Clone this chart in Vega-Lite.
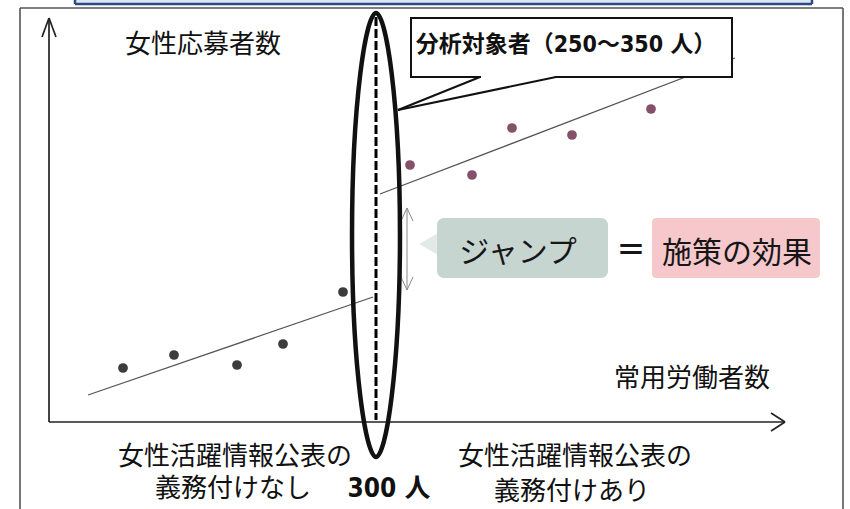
{
  "$schema": "https://vega.github.io/schema/vega-lite/v6.json",
  "width": 850,
  "height": 509,
  "autosize": "none",
  "padding": 0,
  "background": "white",
  "config": {"view": {"stroke": null}},
  "datasets": {
    "topbar": [{"x": 75, "x2": 812, "y": 0, "y2": 4}],
    "navy": [{"x": 75, "y": 4, "x2": 812, "y2": 4}, {"x": 75, "y": 0, "x2": 75, "y2": 4}, {"x": 812, "y": 0, "x2": 812, "y2": 4}],
    "frame": [{"x": 20, "y": 8, "x2": 20, "y2": 509}, {"x": 20, "y": 8, "x2": 843, "y2": 8}, {"x": 843, "y": 8, "x2": 843, "y2": 509}],
    "axes": [{"x": 49, "y": 18, "x2": 49, "y2": 422}, {"x": 42, "y": 37, "x2": 49, "y2": 18}, {"x": 56, "y": 37, "x2": 49, "y2": 18}, {"x": 49, "y": 422, "x2": 785, "y2": 422}, {"x": 771, "y": 413, "x2": 785, "y2": 422}, {"x": 771, "y": 431, "x2": 785, "y2": 422}],
    "trend": [{"x": 88, "y": 395, "x2": 373, "y2": 297}, {"x": 380, "y": 194, "x2": 735, "y2": 58}],
    "before": [{"x": 123, "y": 368}, {"x": 174, "y": 355}, {"x": 237, "y": 365}, {"x": 283, "y": 344}, {"x": 343, "y": 292}],
    "after": [{"x": 410, "y": 165}, {"x": 472, "y": 175}, {"x": 512, "y": 128}, {"x": 572, "y": 135}, {"x": 651, "y": 109}],
    "jumparrow": [{"x": 407, "y": 208, "x2": 407, "y2": 290}, {"x": 401, "y": 221, "x2": 407, "y2": 208}, {"x": 413, "y": 221, "x2": 407, "y2": 208}, {"x": 401, "y": 277, "x2": 407, "y2": 290}, {"x": 413, "y": 277, "x2": 407, "y2": 290}],
    "jumpbox": [{"x": 437, "x2": 608, "y": 218, "y2": 278}],
    "effectbox": [{"x": 652, "x2": 820, "y": 218, "y2": 278}],
    "pointer": [{"x": 428, "y": 244}],
    "dash": [{"x": 376, "y": 17, "x2": 376, "y2": 420}],
    "ellipse": [{"x": 376, "y": 235}],
    "callout": [{"x": 411, "x2": 732, "y": 18, "y2": 77}],
    "gap": [{"x": 481, "y": 77, "x2": 555, "y2": 77}],
    "tail": [{"x": 480, "y": 77, "x2": 398, "y2": 110}, {"x": 556, "y": 77, "x2": 398, "y2": 110}],
    "labels": [
      {"x": 203, "y": 45, "label": "女性応募者数"},
      {"x": 692, "y": 379, "label": "常用労働者数"},
      {"x": 235, "y": 457, "label": "女性活躍情報公表の"},
      {"x": 233, "y": 489, "label": "義務付けなし"},
      {"x": 575, "y": 457, "label": "女性活躍情報公表の"},
      {"x": 572, "y": 492, "label": "義務付けあり"}
    ],
    "boxlabels": [{"x": 518, "y": 253, "label": "ジャンプ"}, {"x": 737, "y": 254, "label": "施策の効果"}],
    "eq": [{"x": 631, "y": 251, "label": "＝"}],
    "threshold": [{"x": 389, "y": 489, "label": "300 人"}],
    "calloutText": [{"x": 566, "y": 45, "label": "分析対象者（250〜350 人）"}]
  },
  "encoding": {
    "x": {"field": "x", "type": "quantitative", "scale": {"domain": [0, 850], "nice": false, "zero": false}, "axis": null},
    "y": {"field": "y", "type": "quantitative", "scale": {"domain": [0, 509], "nice": false, "zero": false, "reverse": true}, "axis": null}
  },
  "layer": [
    {"data": {"name": "topbar"}, "mark": {"type": "rect", "fill": "#dce6f4"}, "encoding": {"x2": {"field": "x2"}, "y2": {"field": "y2"}}},
    {"data": {"name": "navy"}, "mark": {"type": "rule", "stroke": "#2b4a86", "strokeWidth": 2.5}, "encoding": {"x2": {"field": "x2"}, "y2": {"field": "y2"}}},
    {"data": {"name": "frame"}, "mark": {"type": "rule", "stroke": "#555555", "strokeWidth": 1.6}, "encoding": {"x2": {"field": "x2"}, "y2": {"field": "y2"}}},
    {"data": {"name": "axes"}, "mark": {"type": "rule", "stroke": "#222222", "strokeWidth": 1.7}, "encoding": {"x2": {"field": "x2"}, "y2": {"field": "y2"}}},
    {"data": {"name": "trend"}, "mark": {"type": "rule", "stroke": "#555555", "strokeWidth": 1.3}, "encoding": {"x2": {"field": "x2"}, "y2": {"field": "y2"}}},
    {"data": {"name": "before"}, "mark": {"type": "point", "filled": true, "fill": "#3c3c3c", "stroke": null, "size": 95, "opacity": 1}},
    {"data": {"name": "after"}, "mark": {"type": "point", "filled": true, "fill": "#84506a", "stroke": null, "size": 95, "opacity": 1}},
    {"data": {"name": "jumparrow"}, "mark": {"type": "rule", "stroke": "#8a8a8a", "strokeWidth": 1}, "encoding": {"x2": {"field": "x2"}, "y2": {"field": "y2"}}},
    {"data": {"name": "pointer"}, "mark": {"type": "point", "shape": "triangle-left", "filled": true, "fill": "#e2eae7", "stroke": null, "size": 420, "opacity": 1}},
    {"data": {"name": "jumpbox"}, "mark": {"type": "rect", "fill": "#c7d5d1", "cornerRadius": 7}, "encoding": {"x2": {"field": "x2"}, "y2": {"field": "y2"}}},
    {"data": {"name": "effectbox"}, "mark": {"type": "rect", "fill": "#f6c8cb", "cornerRadius": 4}, "encoding": {"x2": {"field": "x2"}, "y2": {"field": "y2"}}},
    {"data": {"name": "labels"}, "mark": {"type": "text", "font": "Noto Sans CJK JP", "fontSize": 26, "color": "#111111", "align": "center", "baseline": "middle"}, "encoding": {"text": {"field": "label"}}},
    {"data": {"name": "boxlabels"}, "mark": {"type": "text", "font": "Noto Sans CJK JP", "fontSize": 30, "color": "#161616", "align": "center", "baseline": "middle"}, "encoding": {"text": {"field": "label"}}},
    {"data": {"name": "eq"}, "mark": {"type": "text", "font": "Noto Sans CJK JP", "fontSize": 30, "fontWeight": "bold", "color": "#161616", "align": "center", "baseline": "middle"}, "encoding": {"text": {"field": "label"}}},
    {"data": {"name": "threshold"}, "mark": {"type": "text", "font": "Liberation Sans Narrow, DejaVu Sans Condensed, Noto Sans CJK JP", "fontSize": 26, "fontWeight": "bold", "color": "#111111", "align": "center", "baseline": "middle"}, "encoding": {"text": {"field": "label"}}},
    {"data": {"name": "dash"}, "mark": {"type": "rule", "stroke": "#000000", "strokeWidth": 3, "strokeDash": [9, 3]}, "encoding": {"x2": {"field": "x2"}, "y2": {"field": "y2"}}},
    {"data": {"name": "ellipse"}, "mark": {"type": "point", "shape": "M0,-1C0.045,-1 0.108,-0.6 0.108,0C0.108,0.6 0.045,1 0,1C-0.045,1 -0.108,0.6 -0.108,0C-0.108,-0.6 -0.045,-1 0,-1Z", "size": 197136, "filled": false, "fill": null, "stroke": "#111111", "strokeWidth": 4.5, "opacity": 1}},
    {"data": {"name": "callout"}, "mark": {"type": "rect", "fill": "white", "stroke": "#111111", "strokeWidth": 2}, "encoding": {"x2": {"field": "x2"}, "y2": {"field": "y2"}}},
    {"data": {"name": "gap"}, "mark": {"type": "rule", "stroke": "white", "strokeWidth": 3.5}, "encoding": {"x2": {"field": "x2"}, "y2": {"field": "y2"}}},
    {"data": {"name": "tail"}, "mark": {"type": "rule", "stroke": "#111111", "strokeWidth": 2}, "encoding": {"x2": {"field": "x2"}, "y2": {"field": "y2"}}},
    {"data": {"name": "calloutText"}, "mark": {"type": "text", "font": "Liberation Sans Narrow, DejaVu Sans Condensed, Noto Sans CJK JP", "fontSize": 23, "fontWeight": "bold", "color": "#111111", "align": "center", "baseline": "middle"}, "encoding": {"text": {"field": "label"}}}
  ]
}
